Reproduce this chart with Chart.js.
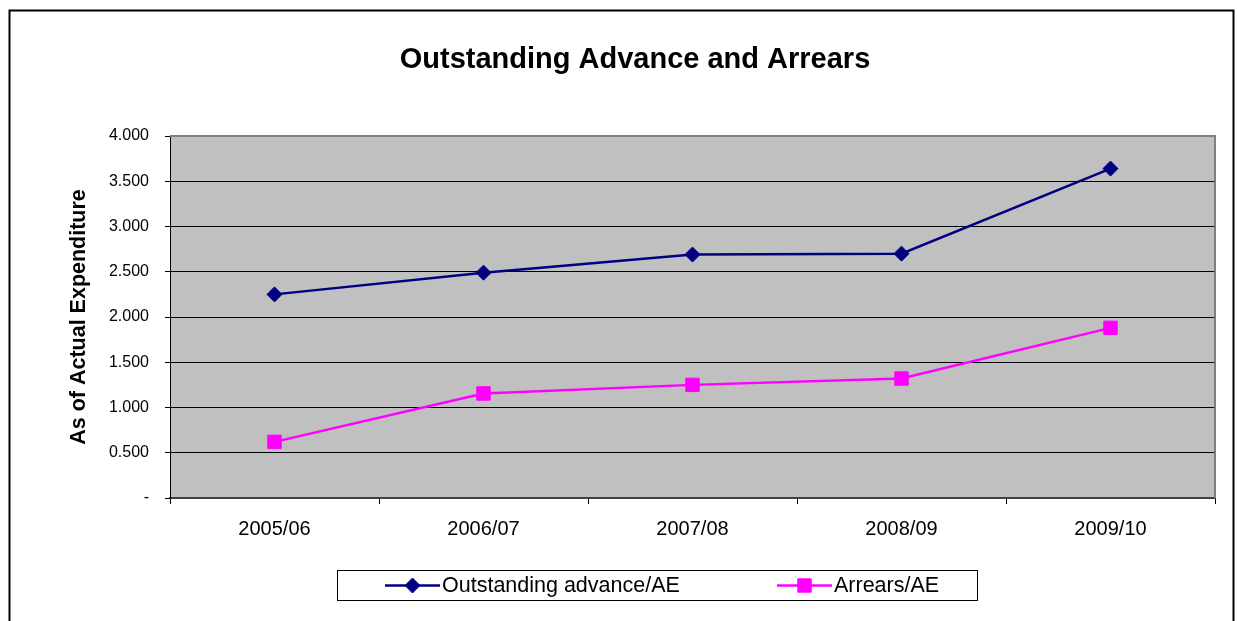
<!DOCTYPE html>
<html>
<head>
<meta charset="utf-8">
<script src="https://cdn.jsdelivr.net/npm/chart.js@4/dist/chart.umd.min.js"></script>
<style>
  body { margin: 0; background: #fff; }
  #wrap { width: 1237px; height: 621px; }
</style>
</head>
<body>
<div id="wrap"><canvas id="chart" width="1237" height="621"></canvas></div>
<script>
// Données
const years = ['2005/06', '2006/07', '2007/08', '2008/09', '2009/10'];
const outstandingAdvance = [2.25, 2.49, 2.69, 2.70, 3.64];
const arrears = [0.62, 1.155, 1.25, 1.32, 1.88];
const yTickLabels = ['-', '0.500', '1.000', '1.500', '2.000', '2.500', '3.000', '3.500', '4.000'];

const chartTitle = 'Outstanding Advance and Arrears';
const yTitle = 'As of Actual Expenditure';
const FONT = '"Liberation Sans", Arial, sans-serif';

// Fond gris de la zone de tracé, cadre, titre et légende
const decor = {
    id: 'decor',
    beforeDraw(chart) {
        const { ctx, chartArea: a } = chart;
        ctx.save();
        ctx.fillStyle = '#C0C0C0';
        ctx.fillRect(a.left, a.top, a.right - a.left, a.bottom - a.top);
        ctx.restore();
    },
    beforeDatasetsDraw(chart) {
        const { ctx, chartArea: a } = chart;
        ctx.save();
        ctx.strokeStyle = '#808080';
        ctx.lineWidth = 2;
        ctx.beginPath();
        ctx.moveTo(a.left, a.top);
        ctx.lineTo(a.right, a.top);
        ctx.lineTo(a.right, a.bottom);
        ctx.stroke();
        ctx.restore();
    },
    afterDraw(chart) {
        const { ctx } = chart;
        ctx.save();
        // cadre extérieur
        ctx.strokeStyle = '#000';
        ctx.lineWidth = 2;
        ctx.strokeRect(9.5, 10.5, 1224, 700);

        // titre
        ctx.fillStyle = '#000';
        ctx.font = 'bold 29px ' + FONT;
        ctx.textAlign = 'center';
        ctx.textBaseline = 'alphabetic';
        ctx.fillText(chartTitle, 635, 68);

        // légende
        ctx.lineWidth = 1;
        ctx.strokeRect(337.5, 570.5, 640, 30);
        const items = [{ x: 385 }, { x: 777 }];
        chart.data.datasets.forEach((ds, i) => {
            const x0 = items[i].x, y = 585.5;
            ctx.strokeStyle = ds.borderColor;
            ctx.lineWidth = ds.borderWidth;
            ctx.beginPath();
            ctx.moveTo(x0, y);
            ctx.lineTo(x0 + 55, y);
            ctx.stroke();
            ctx.fillStyle = ds.pointBackgroundColor;
            ctx.strokeStyle = ds.pointBorderColor;
            ctx.lineWidth = ds.pointBorderWidth;
            Chart.helpers.drawPoint(ctx, {
                pointStyle: ds.pointStyle,
                radius: ds.pointRadius,
                borderWidth: ds.pointBorderWidth,
                rotation: 0
            }, x0 + 27.5, y);
            ctx.fillStyle = '#000';
            ctx.font = '21.5px ' + FONT;
            ctx.textAlign = 'left';
            ctx.textBaseline = 'middle';
            ctx.fillText(ds.label, x0 + 57, y + 1);
        });
        ctx.restore();
    }
};

new Chart(document.getElementById('chart'), {
    type: 'line',
    data: {
        labels: years,
        datasets: [
            {
                label: 'Outstanding advance/AE',
                data: outstandingAdvance,
                borderColor: '#000080',
                borderWidth: 2.5,
                pointStyle: 'rectRot',
                pointRadius: 7.5,
                pointBackgroundColor: '#000080',
                pointBorderColor: '#000080',
                pointBorderWidth: 1,
                tension: 0
            },
            {
                label: 'Arrears/AE',
                data: arrears,
                borderColor: '#FF00FF',
                borderWidth: 2.5,
                pointStyle: 'rect',
                pointRadius: 9.5,
                pointBackgroundColor: '#FF00FF',
                pointBorderColor: '#FF00FF',
                pointBorderWidth: 1,
                tension: 0
            }
        ]
    },
    options: {
        responsive: false,
        animation: false,
        layout: { padding: { top: 136, left: 0, right: 22, bottom: 0 } },
        plugins: {
            legend: { display: false },
            title: { display: false },
            tooltip: { enabled: false }
        },
        scales: {
            x: {
                type: 'category',
                offset: true,
                afterFit: (s) => { s.height = 123; },
                grid: {
                    offset: true,
                    drawOnChartArea: false,
                    drawTicks: true,
                    tickLength: 6,
                    tickColor: '#000'
                },
                border: { color: '#404040', width: 2 },
                ticks: {
                    color: '#000',
                    font: { family: FONT, size: 20 },
                    padding: 13,
                    maxRotation: 0
                }
            },
            y: {
                min: 0,
                max: 4,
                afterFit: (s) => { s.width = 170; },
                ticks: {
                    stepSize: 0.5,
                    color: '#000',
                    font: { family: FONT, size: 16 },
                    padding: 16,
                    callback: (v, i) => yTickLabels[i]
                },
                grid: {
                    color: '#000',
                    lineWidth: 1,
                    tickLength: 5,
                    tickColor: '#000'
                },
                border: { color: '#000', width: 1 },
                title: {
                    display: true,
                    text: yTitle,
                    color: '#000',
                    font: { family: FONT, size: 21.5, weight: 'bold' },
                    padding: { top: 66, bottom: 0 }
                }
            }
        }
    },
    plugins: [decor]
});
</script>
</body>
</html>
